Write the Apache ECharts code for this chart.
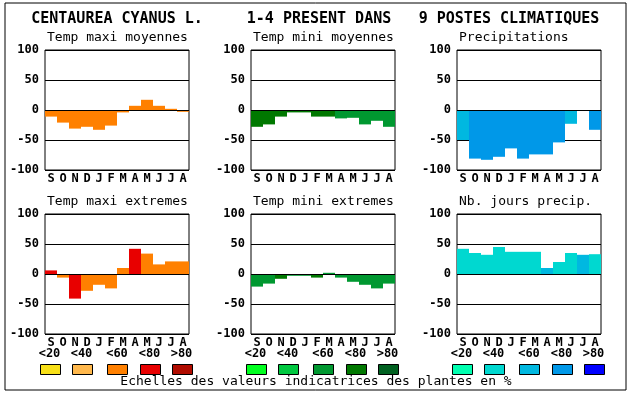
<!DOCTYPE html>
<html><head><meta charset="utf-8">
<script src="https://cdn.jsdelivr.net/npm/echarts@6/dist/echarts.min.js"></script>
<style>html,body{margin:0;padding:0;background:#fff}#c{width:630px;height:394px}</style>
</head><body><div id="c"></div>
<script>
// ---- data ----
const months = ['S','O','N','D','J','F','M','A','M','J','J','A'];
const yTicks = [-100,-50,0,50,100];
const titleParts = ['CENTAUREA CYANUS L.', '1-4 PRESENT DANS', '9 POSTES CLIMATIQUES'];
const panelTitles = ['Temp maxi moyennes','Temp mini moyennes','Precipitations','Temp maxi extremes','Temp mini extremes','Nb. jours precip.'];
const legendLabels = ['<20','<40','<60','<80','>80'];
const legendCaption = 'Echelles des valeurs indicatrices des plantes en %';

const tmaxMoy     = [-11,-21,-31,-28,-33,-26,-4,7,17,7,2,-3];
const tmaxMoyCls  = [3,3,3,3,3,3,3,3,3,3,3,3];
const tminMoy     = [-28,-24,-11,-4,-4,-11,-11,-14,-13,-24,-18,-28];
const tminMoyCls  = [4,4,4,4,4,4,4,3,3,3,3,3];
const precip      = [-50,-81,-83,-78,-64,-81,-74,-74,-54,-23,null,-33];
const precipCls   = [3,4,4,4,4,4,4,4,4,3,3,4];
const tmaxExt     = [6,-6,-41,-28,-18,-24,10,42,34,16,21,21];
const tmaxExtCls  = [4,3,4,3,3,3,3,4,3,3,3,3];
const tminExt     = [-21,-16,-8,-3,-3,-6,2,-6,-13,-18,-24,-16];
const tminExtCls  = [3,3,4,3,3,4,3,3,3,3,3,3];
const nbJours     = [42,35,32,45,37,37,37,10,20,35,32,33];
const nbJoursCls  = [2,2,2,2,2,2,2,3,2,2,3,2];

// ---- styles ----
const palOrange = ['#F8E018','#FFB84C','#FF8000','#E80000','#B00C00'];
const palGreen  = ['#00FF20','#00C840','#009830','#007800','#006020'];
const palBlue   = ['#00FFB0','#00D8D0','#00B8E0','#0098E8','#0000FF'];
const MONO = '"DejaVu Sans Mono", "Liberation Mono", monospace';

const panels = [
  {vals: tmaxMoy, cls: tmaxMoyCls, pal: palOrange},
  {vals: tminMoy, cls: tminMoyCls, pal: palGreen},
  {vals: precip,  cls: precipCls,  pal: palBlue},
  {vals: tmaxExt, cls: tmaxExtCls, pal: palOrange},
  {vals: tminExt, cls: tminExtCls, pal: palGreen},
  {vals: nbJours, cls: nbJoursCls, pal: palBlue}
];
const colLeft = [45, 251, 457];
const rowTop = [50, 214];
const GW = 144, GH = 120;

const grids = [], xAxes = [], yAxes = [], series = [];
panels.forEach((p, i) => {
  const c = i % 3, r = Math.floor(i / 3);
  grids.push({left: colLeft[c], top: rowTop[r], width: GW, height: GH,
    show: true, borderColor: '#000', borderWidth: 1, backgroundColor: 'transparent'});
  xAxes.push({type: 'category', gridIndex: i, data: months,
    axisLine: {show: false}, axisTick: {show: false},
    axisLabel: {interval: 0, margin: 3, color: '#000', fontFamily: MONO, fontWeight: 'bold', fontSize: 12}});
  yAxes.push({type: 'value', gridIndex: i, min: yTicks[0], max: yTicks[yTicks.length-1], interval: 50,
    axisLine: {show: false}, axisTick: {show: false},
    splitLine: {show: true, lineStyle: {color: '#000', width: 1}},
    axisLabel: {margin: 6, color: '#000', fontFamily: MONO, fontWeight: 'bold', fontSize: 12}});
  series.push({type: 'bar', xAxisIndex: i, yAxisIndex: i,
    barWidth: '100%', barCategoryGap: '0%', barGap: '0%', animation: false,
    data: p.vals.map((v, k) => ({value: v, itemStyle: {color: p.pal[p.cls[k]-1]}})),
    markLine: {silent: true, symbol: 'none', animation: false,
      lineStyle: {color: '#000', width: 1, type: 'solid'}, label: {show: false},
      data: [{yAxis: 0}]}
  });
});

const graphic = [];
graphic.push({type: 'rect', shape: {x: 5, y: 3, width: 621, height: 387},
  style: {fill: 'none', stroke: '#000', lineWidth: 1}, z: -1});
const titleCenters = [117, 319, 509];
titleParts.forEach((t, k) => graphic.push({type: 'text', x: titleCenters[k], y: 19,
  style: {text: t, font: 'bold 15px ' + MONO, fill: '#000', textAlign: 'center', textVerticalAlign: 'middle'}}));
panelTitles.forEach((t, i) => {
  const c = i % 3, r = Math.floor(i / 3);
  graphic.push({type: 'text', x: colLeft[c] + 2, y: r === 0 ? 38 : 202,
    style: {text: t, font: '13px ' + MONO, fill: '#000', textAlign: 'left', textVerticalAlign: 'middle'}});
});
const legOffsets = [4.5, 36.5, 72, 104.5, 136.5];
const pals = [palOrange, palGreen, palBlue];
for (let c = 0; c < 3; c++) {
  legOffsets.forEach((o, k) => {
    const cx = colLeft[c] + o;
    graphic.push({type: 'text', x: cx, y: 354,
      style: {text: legendLabels[k], font: 'bold 12px ' + MONO, fill: '#000', textAlign: 'center', textVerticalAlign: 'middle'}});
    graphic.push({type: 'rect', shape: {x: Math.round(cx - 10) + 0.5, y: 364.5, width: 20, height: 10},
      style: {fill: pals[c][k], stroke: '#000', lineWidth: 1}});
  });
}
graphic.push({type: 'text', x: 316, y: 382,
  style: {text: legendCaption, font: '13px ' + MONO, fill: '#000', textAlign: 'center', textVerticalAlign: 'middle'}});

const chart = echarts.init(document.getElementById('c'), null, {renderer: 'canvas'});
chart.setOption({animation: false, grid: grids, xAxis: xAxes, yAxis: yAxes, series: series, graphic: graphic});
</script></body></html>
